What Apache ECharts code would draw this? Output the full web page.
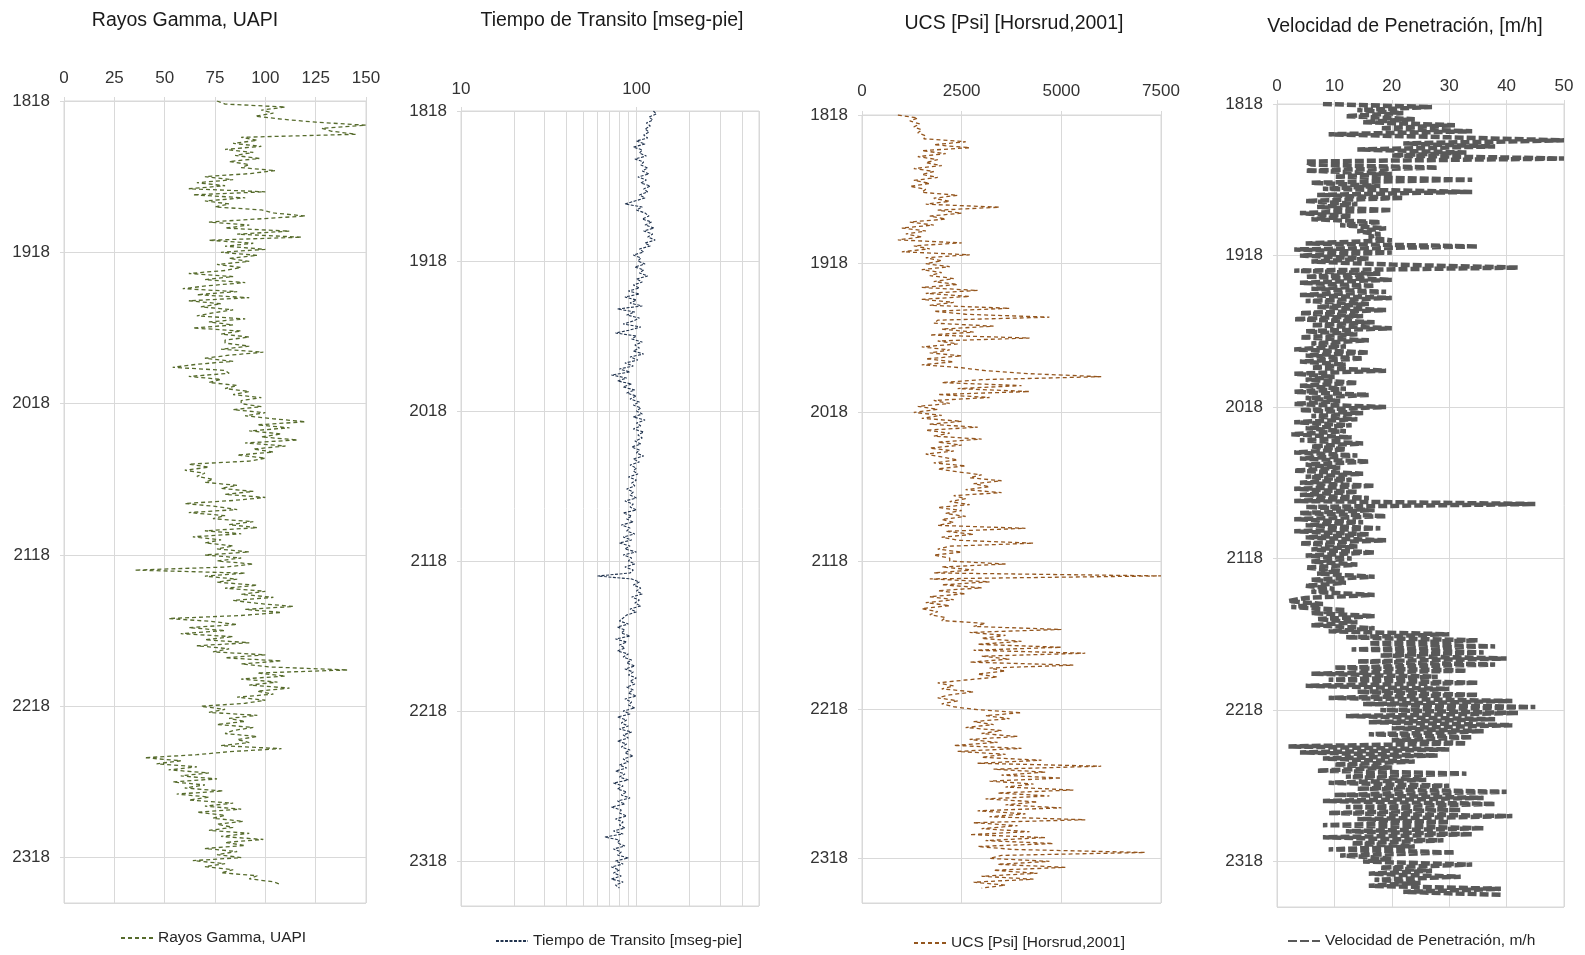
<!DOCTYPE html>
<html><head><meta charset="utf-8">
<script src="https://cdn.jsdelivr.net/npm/echarts@6/dist/echarts.min.js"></script>
<style>html,body{margin:0;padding:0;background:#fff}#c{width:1585px;height:955px}</style>
</head><body><div id="c"></div>
<script>
// Depth (m) shared by all tracks
const depth = [
1818,1820,1822,1824,1826,1828,1830,1832,1834,1836,
1838,1840,1842,1844,1846,1848,1850,1852,1854,1856,
1858,1860,1862,1864,1866,1868,1870,1872,1874,1876,
1878,1880,1882,1884,1886,1888,1890,1892,1894,1896,
1898,1900,1902,1904,1906,1908,1910,1912,1914,1916,
1918,1920,1922,1924,1926,1928,1930,1932,1934,1936,
1938,1940,1942,1944,1946,1948,1950,1952,1954,1956,
1958,1960,1962,1964,1966,1968,1970,1972,1974,1976,
1978,1980,1982,1984,1986,1988,1990,1992,1994,1996,
1998,2000,2002,2004,2006,2008,2010,2012,2014,2016,
2018,2020,2022,2024,2026,2028,2030,2032,2034,2036,
2038,2040,2042,2044,2046,2048,2050,2052,2054,2056,
2058,2060,2062,2064,2066,2068,2070,2072,2074,2076,
2078,2080,2082,2084,2086,2088,2090,2092,2094,2096,
2098,2100,2102,2104,2106,2108,2110,2112,2114,2116,
2118,2120,2122,2124,2126,2128,2130,2132,2134,2136,
2138,2140,2142,2144,2146,2148,2150,2152,2154,2156,
2158,2160,2162,2164,2166,2168,2170,2172,2174,2176,
2178,2180,2182,2184,2186,2188,2190,2192,2194,2196,
2198,2200,2202,2204,2206,2208,2210,2212,2214,2216,
2218,2220,2222,2224,2226,2228,2230,2232,2234,2236,
2238,2240,2242,2244,2246,2248,2250,2252,2254,2256,
2258,2260,2262,2264,2266,2268,2270,2272,2274,2276,
2278,2280,2282,2284,2286,2288,2290,2292,2294,2296,
2298,2300,2302,2304,2306,2308,2310,2312,2314,2316,
2318,2320,2322,2324,2326,2328,2330,2332,2334,2336,
2338,2340];

// Rayos Gamma, UAPI
const gammaRay = [
76,80,110,98,104,95,108,125,150,128,
133,145,88,96,84,98,80,94,85,97,
82,92,88,105,92,70,84,66,80,62,
100,64,90,70,82,75,98,104,120,96,
72,92,80,112,86,118,72,94,80,100,
78,96,82,92,76,88,80,62,84,70,
90,72,59,86,66,92,62,78,68,84,
74,66,90,72,84,64,88,78,92,80,
80,92,78,99,82,70,84,66,54,80,
82,62,78,72,86,80,92,84,98,88,
88,98,84,100,90,104,120,96,112,92,
108,98,116,90,110,94,104,86,100,92,
62,72,60,70,66,74,70,86,78,94,
80,100,84,60,76,86,62,80,74,94,
82,96,70,88,64,78,70,84,76,92,
70,88,76,94,80,35,90,70,86,76,
96,80,100,88,104,84,96,114,90,108,
88,52,74,86,62,80,58,84,70,92,
66,82,74,100,80,108,88,102,141,96,
110,88,106,92,112,96,104,86,100,90,
68,80,72,96,82,90,76,94,84,80,
96,86,92,78,108,82,66,40,58,46,
66,52,72,58,76,54,70,60,79,56,
72,62,84,70,88,66,80,74,89,76,
84,72,92,78,99,80,90,70,86,76,
88,64,80,70,84,78,96,92,104,108];

// Tiempo de Transito [mseg-pie]
const transitTime = [
125,130,118,124,114,120,112,118,110,116,
100,112,96,108,104,114,98,110,106,116,
108,118,102,114,106,120,110,116,104,112,
98,86,108,100,112,118,108,122,112,126,
110,124,116,128,112,120,104,110,96,106,
102,112,98,110,104,116,100,108,96,104,
90,104,86,100,92,108,78,98,88,104,
96,84,106,92,76,100,94,108,98,104,
96,110,92,102,86,96,80,92,72,88,
78,94,84,98,88,100,92,104,96,106,
100,108,96,112,100,106,96,110,102,108,
98,106,94,104,100,110,96,104,92,100,
96,102,90,100,94,98,88,96,92,100,
86,96,92,100,84,94,88,96,82,92,
88,98,84,94,80,92,86,100,84,94,
90,98,86,96,92,60,94,104,96,106,
100,108,94,104,98,106,92,100,88,84,
80,90,78,86,82,92,76,88,80,86,
78,90,84,94,88,98,86,96,90,100,
92,98,88,96,90,100,86,94,90,98,
84,92,78,88,82,90,80,94,84,90,
78,88,82,92,86,96,84,90,80,88,
76,86,80,90,74,84,78,88,82,92,
78,86,72,82,80,88,76,84,80,86,
74,84,66,80,78,86,74,82,78,90,
76,84,72,80,74,82,72,84,76,80];

// UCS [Psi] [Horsrud,2001]
const ucs = [
900,1400,1200,1450,1300,1500,1400,1600,1550,2600,
1800,2700,1500,2100,1400,1900,1600,2000,1300,1800,
1500,1900,1300,1700,1200,1600,1500,2400,1800,2200,
1600,3450,1900,2500,1700,2100,1200,1800,1000,1600,
1100,1500,900,2500,1300,1700,1000,2700,1600,2000,
1600,2200,1500,2000,1700,2300,1800,2400,1500,2900,
1600,2700,1500,2300,1700,3700,1800,2600,4700,1900,
1800,3300,2000,2800,1700,4200,1900,2400,1500,2200,
1700,2500,1600,2300,1500,2500,3100,4200,6000,3000,
2000,4000,2400,4200,1900,3200,1800,2200,1400,1900,
1300,2000,1500,2500,1700,2900,1600,2200,1800,3000,
1900,2500,1700,2300,1600,2000,2400,1800,2600,1900,
2400,3000,2700,3500,2800,3200,2600,3500,2300,2600,
2200,2700,1900,2500,2100,2600,2000,2300,1900,4100,
2100,2800,2000,2400,4300,2200,1900,2500,1800,2200,
2200,3600,2000,2800,1800,7500,1700,3200,2000,3000,
1900,2600,1700,2300,1600,2200,1500,1900,1700,2100,
2000,3100,2800,5000,2700,3600,3000,4000,2900,5000,
2800,5600,3000,3700,2700,5300,3200,3600,2900,3400,
2600,1900,2300,2000,2800,2200,1900,2400,2000,2300,
2900,4000,3100,3700,2800,3300,2600,3500,3000,3900,
2700,3400,2300,4000,2400,3600,3000,4500,2900,6000,
3300,4600,3500,5000,3200,4300,3600,5300,3400,4700,
3100,4400,3600,5000,2900,4100,3200,5600,2800,3900,
3000,4200,2700,4600,3100,4800,2900,3800,7100,3500,
3200,4700,3400,5100,3300,4400,3000,4300,2800,3600,
3000];

// Velocidad de Penetración, m/h
const rop = [
8,27,14,22,12,24,15,31,18,34,
9,30,50,22,38,14,33,20,50,5,
6,28,5,20,10,34,6,18,8,34,
7,22,5,14,7,20,4,13,6,18,
11,19,14,18,16,20,5,35,3,20,
4,16,6,20,42,3,18,5,20,4,
17,6,19,4,20,5,16,7,19,4,
15,3,17,6,20,5,14,4,16,6,
12,3,16,5,15,4,12,6,19,3,
10,5,14,4,12,3,16,5,11,3,
19,4,15,6,14,3,13,5,12,2.5,
13,4,15,6,12,3,14,4,16,5,
11,3,15,5,13,4,17,3,14,4,
16,3,45,5,17,4,19,3,15,5,
18,3,16,5,19,4,14,6,17,5,
13,6,14,5,11,7,17,6,12,5,
10,6,17,5,2,8,2.5,12,6,17,
7,14,6,17,9,30,12,35,16,38,
13,36,18,40,14,38,10,33,6,28,
9,35,5,30,14,35,9,41,15,45,
18,42,12,38,16,41,20,36,16,34,
20,33,2,30,4,28,8,24,10,20,
7,33,12,26,9,30,14,40,10,36,
8,38,12,32,9,41,14,30,8,36,
12,34,8,29,13,24,9,31,11,20,
15,34,18,27,16,32,17,25,16,39,
22,39];

const titles = ['Rayos Gamma, UAPI', 'Tiempo de Transito [mseg-pie]', 'UCS [Psi] [Horsrud,2001]', 'Velocidad de Penetración, [m/h]'];
const legendNames = ['Rayos Gamma, UAPI', 'Tiempo de Transito [mseg-pie]', 'UCS [Psi] [Horsrud,2001]', 'Velocidad de Penetración, m/h'];
const dtMinorGrid = [20, 30, 40, 50, 60, 70, 80, 90, 200, 300, 400];
const DEPTH_MIN = 1818, DEPTH_MAX = 2348, DEPTH_STEP = 100;

const FONT = "'Liberation Sans',Arial,sans-serif";
const grids = [
  {left: 64, top: 101, width: 302, height: 802},
  {left: 461, top: 111, width: 298, height: 795},
  {left: 862, top: 115, width: 299, height: 788},
  {left: 1277, top: 104, width: 287, height: 803}
];
const xCfg = [
  {type: 'value', min: 0, max: 150, interval: 25, margin: 14},
  {type: 'log', min: 10, max: 500, logBase: 10, margin: 13, hideMax: true},
  {type: 'value', min: 0, max: 7500, interval: 2500, margin: 15},
  {type: 'value', min: 0, max: 50, interval: 10, margin: 9}
];
const styles = [
  {color: '#566b2c', width: 1.3, dash: [4, 3]},
  {color: '#22344f', width: 1.1, dash: [3, 1.5]},
  {color: '#94561e', width: 1.3, dash: [4, 3]},
  {color: '#595959', width: 4.5, dash: [9, 3]}
];
const titlePos = [[185, 11], [612, 11], [1014, 14], [1405, 17]];
const legendPos = [[120, 930], [495, 933], [913, 935], [1287, 933]];
const seriesVals = [gammaRay, transitTime, ucs, rop];

const gridLine = '#d9d9d9';
const plain = v => String(v);
const option = {
  backgroundColor: '#fff',
  animation: false,
  title: titles.map((t, i) => ({
    text: t, left: titlePos[i][0], top: titlePos[i][1], textAlign: 'center', padding: 0,
    textStyle: {fontFamily: FONT, fontSize: 19.5, fontWeight: 'normal', color: '#1a1a1a'}
  })),
  legend: legendNames.map((n, i) => ({
    data: [n], left: legendPos[i][0], top: legendPos[i][1], padding: 0,
    itemWidth: 32, itemHeight: 14, selectedMode: false,
    itemStyle: {color: 'transparent', borderColor: 'transparent', borderWidth: 0, opacity: 0},
    textStyle: {fontFamily: FONT, fontSize: 15.5, color: '#262626'}
  })),
  grid: grids.map(g => Object.assign({show: true, borderColor: gridLine, borderWidth: 1, containLabel: false}, g)),
  xAxis: xCfg.map((c, i) => {
    const a = {
      gridIndex: i, type: c.type, position: 'top', min: c.min, max: c.max,
      axisLine: {show: false},
      axisTick: {show: true, length: 4, lineStyle: {color: gridLine}},
      axisLabel: {fontFamily: FONT, fontSize: 17, color: '#333', margin: c.margin, showMaxLabel: !c.hideMax, formatter: plain},
      splitLine: {show: true, lineStyle: {color: gridLine, width: 1}}
    };
    if (c.interval) a.interval = c.interval;
    if (c.logBase) a.logBase = c.logBase;
    return a;
  }),
  yAxis: grids.map((g, i) => ({
    gridIndex: i, type: 'value', inverse: true, min: DEPTH_MIN, max: DEPTH_MAX, interval: DEPTH_STEP,
    axisLine: {show: false},
    axisTick: {show: true, length: 4, lineStyle: {color: gridLine}},
    axisLabel: {fontFamily: FONT, fontSize: 17, color: '#333', margin: 14, showMaxLabel: false, formatter: plain},
    splitLine: {show: true, lineStyle: {color: gridLine, width: 1}}
  })),
  series: seriesVals.map((vals, i) => ({
    type: 'line', name: legendNames[i], xAxisIndex: i, yAxisIndex: i,
    data: vals.map((v, k) => [v, depth[k]]),
    showSymbol: false, symbol: 'none', silent: true, z: 3,
    itemStyle: {color: styles[i].color},
    lineStyle: {color: styles[i].color, width: styles[i].width, type: styles[i].dash}
  })).concat([{
    type: 'line', xAxisIndex: 1, yAxisIndex: 1, data: [], silent: true, z: 1,
    markLine: {
      silent: true, symbol: ['none', 'none'], z: 1, animation: false,
      label: {show: false},
      lineStyle: {color: gridLine, width: 1, type: 'solid'},
      emphasis: {disabled: true},
      data: dtMinorGrid.map(v => ({xAxis: v}))
    }
  }])
};
const chart = echarts.init(document.getElementById('c'), null, {renderer: 'canvas'});
chart.setOption(option);
</script>
</body></html>
